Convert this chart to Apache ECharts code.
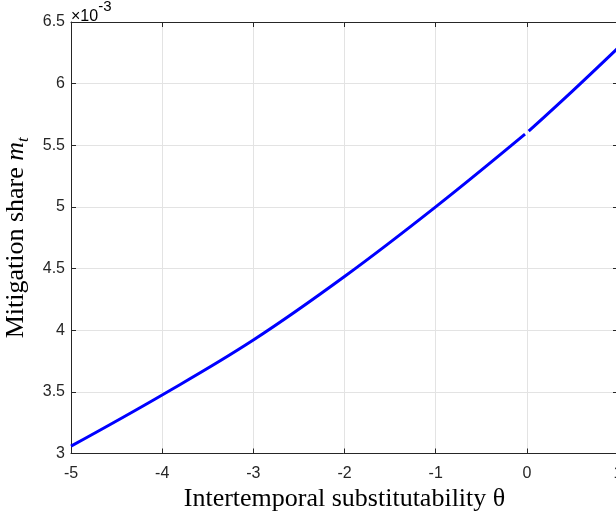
<!DOCTYPE html>
<html>
<head>
<meta charset="utf-8">
<script src="https://cdn.jsdelivr.net/npm/echarts@6/dist/echarts.min.js"></script>
<style>
  html, body { margin: 0; padding: 0; background: #fff; }
  #chart { width: 616px; height: 514px; }
</style>
</head>
<body>
<div id="chart"></div>
<script>
// Mitigation share (in units of 1e-3) against intertemporal substitutability theta.
// The curve is undefined at theta = 0, so it is drawn as two pieces.
const thetaLeft = [-5, -4, -3, -2, -1, -0.02];
const shareLeft = [3.06, 3.475, 3.92, 4.435, 5.00, 5.59];
const thetaRight = [0.02, 0.5, 1];
const shareRight = [5.615, 5.94, 6.29];

const xTicks = { min: -5, max: 1, step: 1 };
const yTicks = { min: 3, max: 6.5, step: 0.5 };

const axisColor = '#262626';
const gridColor = '#e3e3e3';
const tickFont = 'Liberation Sans, Arial, sans-serif';
const titleFont = 'Liberation Serif, Times New Roman, serif';
const titleSize = 26;

const pairs = (xs, ys) => xs.map((x, i) => [x, ys[i]]);

const chart = echarts.init(document.getElementById('chart'), null, { renderer: 'canvas' });

const baseAxis = {
  type: 'value',
  axisLine: { show: true, onZero: false, lineStyle: { color: axisColor, width: 1 } },
  axisTick: { show: true, inside: true, length: 5, lineStyle: { color: axisColor, width: 1 } },
  axisLabel: { show: true, color: axisColor, fontFamily: tickFont, fontSize: 16 },
  splitLine: { show: false }
};

chart.setOption({
  animation: false,
  backgroundColor: '#ffffff',
  grid: { left: 71, top: 22, width: 547, height: 431.5, containLabel: false, outerBoundsMode: 'none' },
  xAxis: [
    Object.assign({}, baseAxis, {
      position: 'bottom',
      min: xTicks.min, max: xTicks.max, interval: xTicks.step,
      axisLabel: Object.assign({}, baseAxis.axisLabel, { margin: 12 }),
      splitLine: { show: true, lineStyle: { color: gridColor, width: 1 } },
      name: 'Intertemporal substitutability θ',
      nameLocation: 'middle',
      nameGap: 26,
      nameTextStyle: { fontFamily: titleFont, fontSize: titleSize, color: '#000' }
    }),
    Object.assign({}, baseAxis, {
      position: 'top',
      min: xTicks.min, max: xTicks.max, interval: xTicks.step,
      axisLabel: { show: false }
    })
  ],
  yAxis: [
    Object.assign({}, baseAxis, {
      position: 'left',
      min: yTicks.min, max: yTicks.max, interval: yTicks.step,
      axisLabel: Object.assign({}, baseAxis.axisLabel, { margin: 6 }),
      splitLine: { show: true, lineStyle: { color: gridColor, width: 1 } },
      name: '{a|Mitigation share }{m|m}{t|t}',
      nameLocation: 'middle',
      nameGap: 34,
      nameTextStyle: {
        color: '#000',
        rich: {
          a: { fontFamily: titleFont, fontSize: titleSize, lineHeight: 32, verticalAlign: 'middle', color: '#000' },
          m: { fontFamily: titleFont, fontSize: titleSize, fontStyle: 'italic', lineHeight: 32, verticalAlign: 'middle', color: '#000' },
          t: { fontFamily: titleFont, fontSize: 17, fontStyle: 'italic', lineHeight: 17, verticalAlign: 'bottom', color: '#000' }
        }
      }
    }),
    Object.assign({}, baseAxis, {
      position: 'right',
      min: yTicks.min, max: yTicks.max, interval: yTicks.step,
      axisLabel: { show: false }
    })
  ],
  graphic: [
    {
      type: 'text',
      left: 71,
      top: -1,
      style: {
        text: '{a|×10}{b|-3}',
        rich: {
          a: { fontFamily: tickFont, fontSize: 16, color: axisColor, lineHeight: 26, verticalAlign: 'bottom' },
          b: { fontFamily: tickFont, fontSize: 15, color: axisColor, lineHeight: 26, verticalAlign: 'top' }
        }
      }
    }
  ],
  series: [
    {
      type: 'line',
      data: pairs(thetaLeft, shareLeft),
      smooth: 0.4,
      showSymbol: false,
      clip: true,
      lineStyle: { color: '#0000ff', width: 3 }
    },
    {
      type: 'line',
      data: pairs(thetaRight, shareRight),
      smooth: 0.4,
      showSymbol: false,
      clip: true,
      lineStyle: { color: '#0000ff', width: 3 }
    }
  ]
});
</script>
</body>
</html>
